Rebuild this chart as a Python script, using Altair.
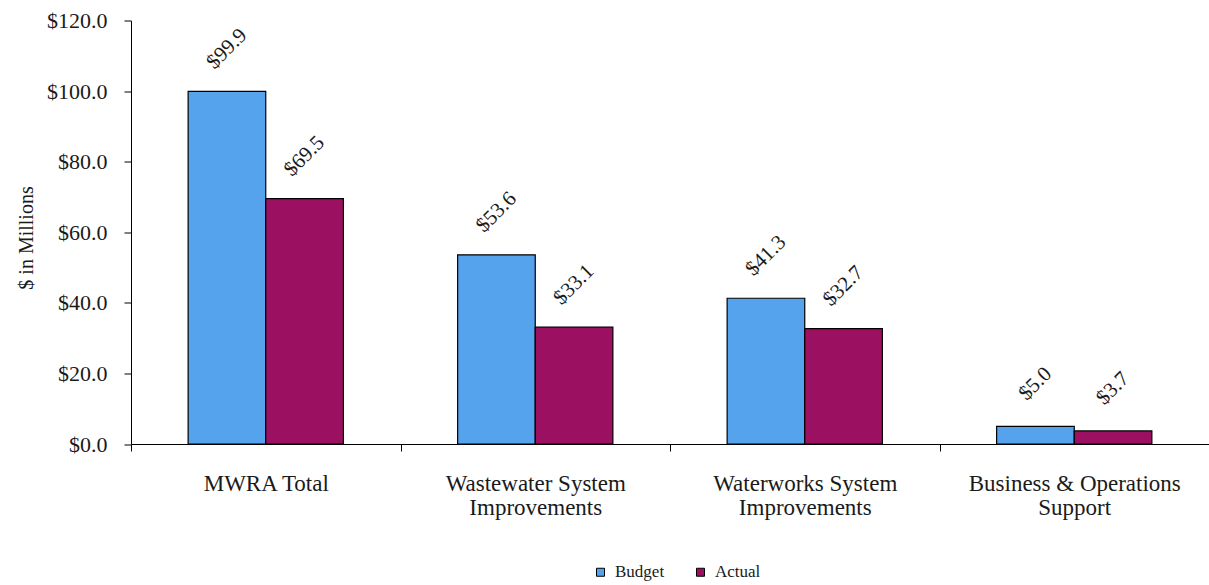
import altair as alt
import pandas as pd

# Capital spending by program, $ millions
categories = [
    "MWRA Total",
    "Wastewater System\nImprovements",
    "Waterworks System\nImprovements",
    "Business & Operations\nSupport",
]
series = ["Budget", "Actual"]
budget = [99.9, 53.6, 41.3, 5.0]
actual = [69.5, 33.1, 32.7, 3.7]
y_ticks = [0, 20, 40, 60, 80, 100, 120]

rows = []
for cat, b, a in zip(categories, budget, actual):
    rows.append({"category": cat, "series": "Budget", "value": b})
    rows.append({"category": cat, "series": "Actual", "value": a})
df = pd.DataFrame(rows)

FONT = "Liberation Serif"
INK = "#1a1a1a"

x_enc = alt.X(
    "category:N",
    sort=categories,
    scale=alt.Scale(paddingInner=0.424, paddingOuter=0.212),
    axis=alt.Axis(
        title=None,
        labelAngle=0,
        labelExpr="split(datum.value, '\\n')",
        labelFont=FONT,
        labelFontSize=23,
        labelColor=INK,
        labelLineHeight=24,
        labelPadding=21,
        labelLimit=0,
        labelOverlap=False,
        tickSize=7,
        tickOffset=-134.75,
        labelOffset=134.75,
        tickColor="black",
        domainColor="black",
        grid=False,
    ),
)
xoff_enc = alt.XOffset("series:N", sort=series)

y_enc = alt.Y(
    "value:Q",
    scale=alt.Scale(domain=[0, 120], nice=False),
    axis=alt.Axis(
        title="$ in Millions",
        values=y_ticks,
        format="$.1f",
        labelFont=FONT,
        labelFontSize=22,
        labelColor=INK,
        labelPadding=17,
        tickSize=7,
        tickColor="black",
        domainColor="black",
        grid=False,
        titleFont=FONT,
        titleFontSize=20,
        titleFontWeight="normal",
        titleColor=INK,
        titleAngle=270,
        titleAlign="center",
        titleBaseline="middle",
        titleX=-105,
        titleY=217,
    ),
)

color_enc = alt.Color(
    "series:N",
    sort=series,
    scale=alt.Scale(domain=series, range=["#55a3ec", "#9b1060"]),
    legend=alt.Legend(
        title=None,
        orient="none",
        direction="horizontal",
        legendX=461,
        legendY=543,
        symbolType="square",
        symbolSize=64,
        symbolStrokeColor="black",
        symbolStrokeWidth=1,
        symbolOpacity=1,
        labelFont=FONT,
        labelFontSize=17,
        labelColor=INK,
        labelOffset=6,
        columnPadding=27,
        padding=0,
    ),
)

bars = alt.Chart(df).mark_bar(stroke="black", strokeWidth=1.2).encode(
    x=x_enc, xOffset=xoff_enc, y=y_enc, color=color_enc
)

labels = (
    alt.Chart(df)
    .transform_calculate(label="'$' + format(datum.value, '.1f')")
    .mark_text(
        font=FONT,
        fontSize=21,
        color=INK,
        angle=315,
        align="center",
        baseline="middle",
        dx=30,
        dy=-30,
    )
    .encode(x=x_enc, xOffset=xoff_enc, y=y_enc, text="label:N")
)

chart = (
    alt.layer(bars, labels)
    .properties(
        width=1078,
        height=423.5,
        autosize=alt.AutoSizeParams(type="none"),
        padding={"left": 131, "top": 20.5, "right": 0, "bottom": 141},
        background="white",
    )
    .configure_view(stroke=None)
)

chart.save("out.html", embed_options={"renderer": "svg", "actions": False})
